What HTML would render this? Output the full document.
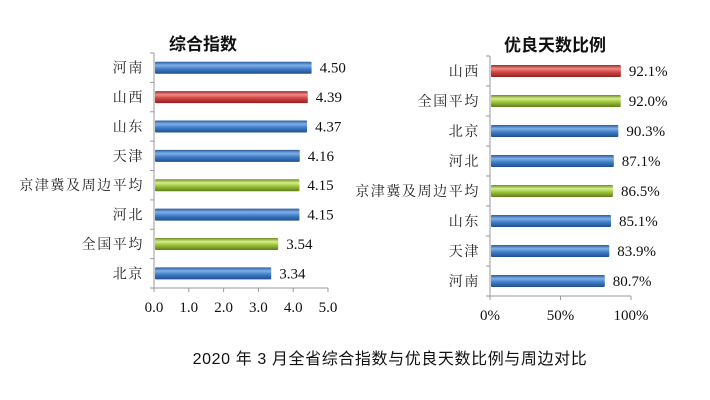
<!DOCTYPE html>
<html><head><meta charset="utf-8"><style>
body{margin:0;background:#fff;}
svg{display:block;font-family:"Liberation Serif","Noto Serif CJK SC",serif;}
.cat{font-family:"Liberation Serif","Noto Serif CJK SC",serif;font-size:14px;letter-spacing:1.6px;fill:#222;}
.val{font-size:15px;fill:#111;}
.tick{font-size:15px;fill:#111;}
.ttl{font-family:"Liberation Sans","Noto Sans CJK SC",sans-serif;font-size:17px;font-weight:bold;fill:#111;}
</style></head><body>
<svg id="chart" width="710" height="400">
<defs>
<linearGradient id="gb" x1="0" y1="0" x2="0" y2="1"><stop offset="0" stop-color="#2a5a9a"/><stop offset="0.3" stop-color="#7fb0e8"/><stop offset="0.6" stop-color="#3f7dc8"/><stop offset="1" stop-color="#1f4f8f"/></linearGradient>
<linearGradient id="gr" x1="0" y1="0" x2="0" y2="1"><stop offset="0" stop-color="#9a2a2a"/><stop offset="0.3" stop-color="#ef8a88"/><stop offset="0.6" stop-color="#d24442"/><stop offset="1" stop-color="#8f2222"/></linearGradient>
<linearGradient id="gg" x1="0" y1="0" x2="0" y2="1"><stop offset="0" stop-color="#6a8a1e"/><stop offset="0.3" stop-color="#d4ee8a"/><stop offset="0.6" stop-color="#9cc23a"/><stop offset="1" stop-color="#5f7f18"/></linearGradient>
</defs>
<text class="ttl" x="203" y="50" text-anchor="middle">综合指数</text>
<text class="ttl" x="555" y="51" text-anchor="middle">优良天数比例</text>
<text x="390" y="364" text-anchor="middle" style="font-family:'Liberation Sans','Noto Sans CJK SC',sans-serif;font-size:16px;letter-spacing:0.6px;fill:#111">2020 年 3 月全省综合指数与优良天数比例与周边对比</text>
<g id="left"></g><g id="right"></g>
</svg>
<script>
const leftCats=["河南","山西","山东","天津","京津冀及周边平均","河北","全国平均","北京"];
const leftVals=[4.50,4.39,4.37,4.16,4.15,4.15,3.54,3.34];
const leftLabels=["4.50","4.39","4.37","4.16","4.15","4.15","3.54","3.34"];
const leftColors=["b","r","b","b","g","b","g","b"];
const leftTicks=[0,1,2,3,4,5];
const leftTickLabels=["0.0","1.0","2.0","3.0","4.0","5.0"];
const rightCats=["山西","全国平均","北京","河北","京津冀及周边平均","山东","天津","河南"];
const rightVals=[92.1,92.0,90.3,87.1,86.5,85.1,83.9,80.7];
const rightLabels=["92.1%","92.0%","90.3%","87.1%","86.5%","85.1%","83.9%","80.7%"];
const rightColors=["r","g","b","b","g","b","b","b"];
const rightTicks=[0,50,100];
const rightTickLabels=["0%","50%","100%"];
const NS="http://www.w3.org/2000/svg";
function mk(p,t,a){const e=document.createElementNS(NS,t);for(const k in a)e.setAttribute(k,a[k]);p.appendChild(e);return e;}
function draw(g,cats,vals,labs,cols,ticks,tlabs,x0,x1,max,top,bot,side){
  const xs=v=>x0+(x1-x0)*v/max;
  const n=cats.length,bw=(bot-top)/n;
  const ys=i=>top+bw*(i+0.5);
  let l=mk(g,"line",{x1:x0,y1:top,x2:x0,y2:bot,stroke:"#999"});
  
  
  l=mk(g,"line",{x1:x0,y1:bot,x2:x1,y2:bot,stroke:"#999"});
  
  
  for(let i=0;i<=n;i++){mk(g,"line",{x1:x0-4,y1:top+bw*i,x2:x0,y2:top+bw*i,stroke:"#999"});}
  ticks.forEach((t,i)=>{
    mk(g,"line",{x1:xs(t),y1:bot,x2:xs(t),y2:bot+4,stroke:"#999"});
    const tx=mk(g,"text",{x:xs(t),y:bot+24,"text-anchor":"middle",class:"tick"});
    tx.textContent=tlabs[i];
    
    
  });
  cats.forEach((c,i)=>{
    const y=ys(i);
    const ct=mk(g,"text",{x:x0-10,y:y+5,"text-anchor":"end",class:"cat"});
    ct.textContent=c;
    
    
    const r=mk(g,"rect",{x:x0+1,y:y-6,width:xs(vals[i])-x0,height:12,fill:"url(#g"+cols[i]+")",rx:1});
    
    
    const vt=mk(g,"text",{x:xs(vals[i])+9,y:y+5,class:"val"});
    vt.textContent=labs[i];
    
    
  });
}
draw(document.getElementById("left"),leftCats,leftVals,leftLabels,leftColors,leftTicks,leftTickLabels,154,328,5,53,288,"left");
draw(document.getElementById("right"),rightCats,rightVals,rightLabels,rightColors,rightTicks,rightTickLabels,490,631,100,56,296,"right");
</script>
</body></html>
